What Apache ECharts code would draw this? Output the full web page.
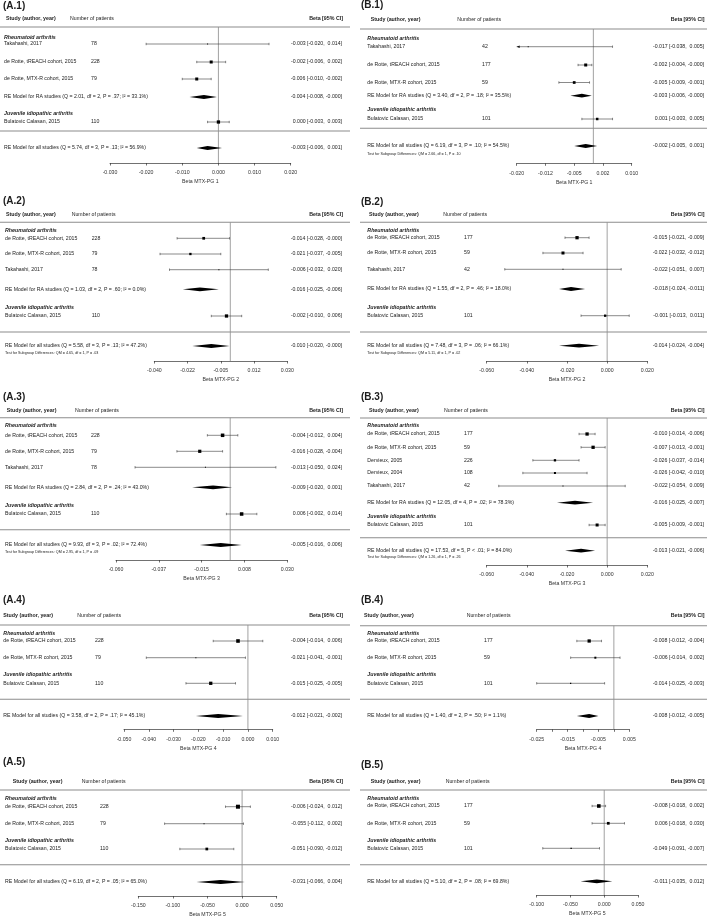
<!DOCTYPE html>
<html><head><meta charset="utf-8">
<script src="https://cdn.jsdelivr.net/npm/echarts@6/dist/echarts.min.js"></script>
<style>html,body{margin:0;padding:0;background:#fff}#c{width:709px;height:918px}</style>
</head><body><div id="c"></div>
<script>
// ---------------- DATA ----------------
const GROUP_NAMES = ['Rheumatoid arthritis', 'Juvenile idiopathic arthritis'];
const HEADERS = ['Study (author, year)', 'Number of patients', 'Beta [95% CI]'];

// (A.1)
const A1_study = ['Takahashi, 2017', 'de Rotte, tREACH cohort, 2015', 'de Rotte, MTX-R cohort, 2015', 'Bulatovic Calasan, 2015'];
const A1_patients = [78, 228, 79, 110];
const A1_beta = [-0.003, -0.002, -0.006, 0.000];
const A1_low = [-0.020, -0.006, -0.010, -0.003];
const A1_high = [0.014, 0.002, -0.002, 0.003];
const A1_weight = [0.25, 0.75, 0.75, 0.82];
const A1_reLabel = ['RE Model for RA studies (Q = 2.01, df = 2, P = .37; I² = 33.1%)', 'RE Model for all studies (Q = 5.74, df = 3, P = .13; I² = 56.9%)'];
const A1_reBeta = [-0.004, -0.003];
const A1_reLow = [-0.008, -0.006];
const A1_reHigh = [-0.0004, 0.001];
const A1_test = '';
const A1_ticks = ['-0.030', '-0.020', '-0.010', '0.000', '0.010', '0.020'];

// (B.1)
const B1_study = ['Takahashi, 2017', 'de Rotte, tREACH cohort, 2015', 'de Rotte, MTX-R cohort, 2015', 'Bulatovic Calasan, 2015'];
const B1_patients = [42, 177, 59, 101];
const B1_beta = [-0.017, -0.002, -0.005, 0.001];
const B1_low = [-0.038, -0.004, -0.009, -0.003];
const B1_high = [0.005, -0.0004, -0.001, 0.005];
const B1_weight = [0.25, 0.75, 0.68, 0.62];
const B1_reLabel = ['RE Model for RA studies (Q = 3.40, df = 2, P = .18; I² = 35.5%)', 'RE Model for all studies (Q = 6.19, df = 3, P = .10; I² = 54.5%)'];
const B1_reBeta = [-0.003, -0.002];
const B1_reLow = [-0.006, -0.005];
const B1_reHigh = [-0.0004, 0.001];
const B1_test = 'Test for Subgroup Differences: QM = 2.66, df = 1, P = .10';
const B1_ticks = ['-0.020', '-0.012', '-0.005', '0.002', '0.010'];

// (A.2)
const A2_study = ['de Rotte, tREACH cohort, 2015', 'de Rotte, MTX-R cohort, 2015', 'Takahashi, 2017', 'Bulatovic Calasan, 2015'];
const A2_patients = [228, 79, 78, 110];
const A2_beta = [-0.014, -0.021, -0.006, -0.002];
const A2_low = [-0.028, -0.037, -0.032, -0.010];
const A2_high = [-0.0004, -0.005, 0.020, 0.006];
const A2_weight = [0.68, 0.58, 0.25, 0.82];
const A2_reLabel = ['RE Model for RA studies (Q = 1.03, df = 2, P = .60; I² = 0.0%)', 'RE Model for all studies (Q = 5.58, df = 3, P = .13; I² = 47.2%)'];
const A2_reBeta = [-0.016, -0.010];
const A2_reLow = [-0.025, -0.020];
const A2_reHigh = [-0.006, -0.0004];
const A2_test = 'Test for Subgroup Differences: QM = 4.65, df = 1, P = .03';
const A2_ticks = ['-0.040', '-0.022', '-0.005', '0.012', '0.030'];

// (B.2)
const B2_study = ['de Rotte, tREACH cohort, 2015', 'de Rotte, MTX-R cohort, 2015', 'Takahashi, 2017', 'Bulatovic Calasan, 2015'];
const B2_patients = [177, 59, 42, 101];
const B2_beta = [-0.015, -0.022, -0.022, -0.001];
const B2_low = [-0.021, -0.032, -0.051, -0.013];
const B2_high = [-0.009, -0.012, 0.007, 0.011];
const B2_weight = [0.82, 0.75, 0.25, 0.58];
const B2_reLabel = ['RE Model for RA studies (Q = 1.55, df = 2, P = .46; I² = 18.0%)', 'RE Model for all studies (Q = 7.48, df = 3, P = .06; I² = 66.1%)'];
const B2_reBeta = [-0.018, -0.014];
const B2_reLow = [-0.024, -0.024];
const B2_reHigh = [-0.011, -0.004];
const B2_test = 'Test for Subgroup Differences: QM = 5.11, df = 1, P = .02';
const B2_ticks = ['-0.060', '-0.040', '-0.020', '0.000', '0.020'];

// (A.3)
const A3_study = ['de Rotte, tREACH cohort, 2015', 'de Rotte, MTX-R cohort, 2015', 'Takahashi, 2017', 'Bulatovic Calasan, 2015'];
const A3_patients = [228, 79, 78, 110];
const A3_beta = [-0.004, -0.016, -0.013, 0.006];
const A3_low = [-0.012, -0.028, -0.050, -0.002];
const A3_high = [0.004, -0.004, 0.024, 0.014];
const A3_weight = [0.88, 0.8, 0.25, 0.88];
const A3_reLabel = ['RE Model for RA studies (Q = 2.84, df = 2, P = .24; I² = 43.0%)', 'RE Model for all studies (Q = 9.93, df = 3, P = .02; I² = 72.4%)'];
const A3_reBeta = [-0.009, -0.005];
const A3_reLow = [-0.020, -0.016];
const A3_reHigh = [0.001, 0.006];
const A3_test = 'Test for Subgroup Differences: QM = 2.95, df = 1, P = .09';
const A3_ticks = ['-0.060', '-0.037', '-0.015', '0.008', '0.030'];

// (B.3)
const B3_study = ['de Rotte, tREACH cohort, 2015', 'de Rotte, MTX-R cohort, 2015', 'Dervieux, 2005', 'Dervieux, 2004', 'Takahashi, 2017', 'Bulatovic Calasan, 2015'];
const B3_patients = [177, 59, 226, 108, 42, 101];
const B3_beta = [-0.010, -0.007, -0.026, -0.026, -0.022, -0.005];
const B3_low = [-0.014, -0.013, -0.037, -0.042, -0.054, -0.009];
const B3_high = [-0.006, -0.001, -0.014, -0.010, 0.009, -0.001];
const B3_weight = [0.82, 0.82, 0.58, 0.5, 0.25, 0.75];
const B3_reLabel = ['RE Model for RA studies (Q = 12.05, df = 4, P = .02; I² = 78.3%)', 'RE Model for all studies (Q = 17.53, df = 5, P < .01; I² = 84.0%)'];
const B3_reBeta = [-0.016, -0.013];
const B3_reLow = [-0.025, -0.021];
const B3_reHigh = [-0.007, -0.006];
const B3_test = 'Test for Subgroup Differences: QM = 1.26, df = 1, P = .26';
const B3_ticks = ['-0.060', '-0.040', '-0.020', '0.000', '0.020'];

// (A.4)
const A4_study = ['de Rotte, tREACH cohort, 2015', 'de Rotte, MTX-R cohort, 2015', 'Bulatovic Calasan, 2015'];
const A4_patients = [228, 79, 110];
const A4_beta = [-0.004, -0.021, -0.015];
const A4_low = [-0.014, -0.041, -0.025];
const A4_high = [0.006, -0.001, -0.005];
const A4_weight = [0.9, 0.25, 0.82];
const A4_reLabel = ['RE Model for all studies (Q = 3.58, df = 2, P = .17; I² = 45.1%)'];
const A4_reBeta = [-0.012];
const A4_reLow = [-0.021];
const A4_reHigh = [-0.002];
const A4_test = '';
const A4_ticks = ['-0.050', '-0.040', '-0.030', '-0.020', '-0.010', '0.000', '0.010'];

// (B.4)
const B4_study = ['de Rotte, tREACH cohort, 2015', 'de Rotte, MTX-R cohort, 2015', 'Bulatovic Calasan, 2015'];
const B4_patients = [177, 59, 101];
const B4_beta = [-0.008, -0.006, -0.014];
const B4_low = [-0.012, -0.014, -0.025];
const B4_high = [-0.004, 0.002, -0.003];
const B4_weight = [0.82, 0.5, 0.3];
const B4_reLabel = ['RE Model for all studies (Q = 1.40, df = 2, P = .50; I² = 1.1%)'];
const B4_reBeta = [-0.008];
const B4_reLow = [-0.012];
const B4_reHigh = [-0.005];
const B4_test = '';
const B4_ticks = ['-0.025', '', '-0.015', '', '-0.005', '', '0.005'];

// (A.5)
const A5_study = ['de Rotte, tREACH cohort, 2015', 'de Rotte, MTX-R cohort, 2015', 'Bulatovic Calasan, 2015'];
const A5_patients = [228, 79, 110];
const A5_beta = [-0.006, -0.055, -0.051];
const A5_low = [-0.024, -0.112, -0.090];
const A5_high = [0.012, 0.002, -0.012];
const A5_weight = [1.0, 0.25, 0.68];
const A5_reLabel = ['RE Model for all studies (Q = 6.19, df = 2, P = .05; I² = 65.0%)'];
const A5_reBeta = [-0.031];
const A5_reLow = [-0.066];
const A5_reHigh = [0.004];
const A5_test = '';
const A5_ticks = ['-0.150', '-0.100', '-0.050', '0.000', '0.050'];

// (B.5)
const B5_study = ['de Rotte, tREACH cohort, 2015', 'de Rotte, MTX-R cohort, 2015', 'Bulatovic Calasan, 2015'];
const B5_patients = [177, 59, 101];
const B5_beta = [-0.008, 0.006, -0.049];
const B5_low = [-0.018, -0.018, -0.091];
const B5_high = [0.002, 0.030, -0.007];
const B5_weight = [0.9, 0.68, 0.32];
const B5_reLabel = ['RE Model for all studies (Q = 5.10, df = 2, P = .08; I² = 69.8%)'];
const B5_reBeta = [-0.011];
const B5_reLow = [-0.035];
const B5_reHigh = [0.012];
const B5_test = '';
const B5_ticks = ['-0.100', '-0.050', '0.000', '0.050'];

// ---------------- LAYOUT (pixels / scale settings) ----------------
const FONT = '"Liberation Sans", Arial, Helvetica, sans-serif';
const INK = '#1c1c1c';
const COLS = {
  A: { titleX: 3, lineX0: 0, lineX1: 350, betaRight: 342, hdrRight: 343 },
  B: { titleX: 361, lineX0: 360, lineX1: 707, betaRight: 704, hdrRight: 704.5 }
};

const PANELS = [
  { title: '(A.1)', axisName: 'Beta MTX-PG 1', col: 'A',
    d: { study: A1_study, n: A1_patients, beta: A1_beta, low: A1_low, high: A1_high, w: A1_weight, reLabel: A1_reLabel, reBeta: A1_reBeta, reLow: A1_reLow, reHigh: A1_reHigh, test: A1_test, ticks: A1_ticks },
    L: { titleY: 7.5, headerY: 19, hline: 27, headRA: 38, rows: [44, 62, 79, 122], reRows: [97, 148], headJIA: 114, sep: 131, testY: null, axisY: 163, x0: 110, x1: 290.7, min: -0.03, max: 0.02, step: 0.01, studyHdrX: 6, nHdrX: 70, nX: 91, nameX: 4 } },
  { title: '(B.1)', axisName: 'Beta MTX-PG 1', col: 'B',
    d: { study: B1_study, n: B1_patients, beta: B1_beta, low: B1_low, high: B1_high, w: B1_weight, reLabel: B1_reLabel, reBeta: B1_reBeta, reLow: B1_reLow, reHigh: B1_reHigh, test: B1_test, ticks: B1_ticks },
    L: { titleY: 6.5, headerY: 20, hline: 29, headRA: 38.3, rows: [46.7, 65, 82.5, 119], reRows: [95.7, 146], headJIA: 110, sep: 128.3, testY: 154, axisY: 163.3, x0: 516.7, x1: 631.7, min: -0.02, max: 0.01, step: 0.0075, studyHdrX: 370.7, nHdrX: 457.3, nX: 482, nameX: 367.3 } },
  { title: '(A.2)', axisName: 'Beta MTX-PG 2', col: 'A',
    d: { study: A2_study, n: A2_patients, beta: A2_beta, low: A2_low, high: A2_high, w: A2_weight, reLabel: A2_reLabel, reBeta: A2_reBeta, reLow: A2_reLow, reHigh: A2_reHigh, test: A2_test, ticks: A2_ticks },
    L: { titleY: 202.7, headerY: 214.3, hline: 222.3, headRA: 230.7, rows: [238.3, 254, 269.7, 316], reRows: [289.3, 346], headJIA: 307.7, sep: 332, testY: 353.3, axisY: 361, x0: 154.3, x1: 287.3, min: -0.04, max: 0.03, step: 0.0175, studyHdrX: 6, nHdrX: 71.7, nX: 91.7, nameX: 5 } },
  { title: '(B.2)', axisName: 'Beta MTX-PG 2', col: 'B',
    d: { study: B2_study, n: B2_patients, beta: B2_beta, low: B2_low, high: B2_high, w: B2_weight, reLabel: B2_reLabel, reBeta: B2_reBeta, reLow: B2_reLow, reHigh: B2_reHigh, test: B2_test, ticks: B2_ticks },
    L: { titleY: 203.3, headerY: 214.3, hline: 222.3, headRA: 230.7, rows: [237.7, 253, 269.3, 315.7], reRows: [289, 345.7], headJIA: 307.3, sep: 332, testY: 353.3, axisY: 361, x0: 486.7, x1: 647.3, min: -0.06, max: 0.02, step: 0.02, studyHdrX: 369, nHdrX: 443.3, nX: 464, nameX: 367.3 } },
  { title: '(A.3)', axisName: 'Beta MTX-PG 3', col: 'A',
    d: { study: A3_study, n: A3_patients, beta: A3_beta, low: A3_low, high: A3_high, w: A3_weight, reLabel: A3_reLabel, reBeta: A3_reBeta, reLow: A3_reLow, reHigh: A3_reHigh, test: A3_test, ticks: A3_ticks },
    L: { titleY: 398.3, headerY: 410.7, hline: 417.7, headRA: 426, rows: [435.3, 451.3, 467.3, 514], reRows: [487.3, 545], headJIA: 505.7, sep: 529.7, testY: 551.7, axisY: 560, x0: 116, x1: 287.3, min: -0.06, max: 0.03, step: 0.0225, studyHdrX: 6.7, nHdrX: 75, nX: 91, nameX: 5 } },
  { title: '(B.3)', axisName: 'Beta MTX-PG 3', col: 'B',
    d: { study: B3_study, n: B3_patients, beta: B3_beta, low: B3_low, high: B3_high, w: B3_weight, reLabel: B3_reLabel, reBeta: B3_reBeta, reLow: B3_reLow, reHigh: B3_reHigh, test: B3_test, ticks: B3_ticks },
    L: { titleY: 398.3, headerY: 410.7, hline: 418, headRA: 426, rows: [434, 447.3, 460.3, 473, 486, 525], reRows: [502.7, 550.7], headJIA: 516.7, sep: 537.7, testY: 556.7, axisY: 565, x0: 486.7, x1: 647.3, min: -0.06, max: 0.02, step: 0.02, studyHdrX: 369, nHdrX: 444, nX: 464, nameX: 367.3 } },
  { title: '(A.4)', axisName: 'Beta MTX-PG 4', col: 'A',
    d: { study: A4_study, n: A4_patients, beta: A4_beta, low: A4_low, high: A4_high, w: A4_weight, reLabel: A4_reLabel, reBeta: A4_reBeta, reLow: A4_reLow, reHigh: A4_reHigh, test: A4_test, ticks: A4_ticks },
    L: { titleY: 601.7, headerY: 616, hline: 625, headRA: 633.7, rows: [641, 657.7, 683.3], reRows: [716], headJIA: 675, sep: 699.3, testY: null, axisY: 729.3, x0: 124, x1: 272.7, min: -0.05, max: 0.01, step: 0.01, studyHdrX: 3.3, nHdrX: 77.3, nX: 95, nameX: 3.3 } },
  { title: '(B.4)', axisName: 'Beta MTX-PG 4', col: 'B',
    d: { study: B4_study, n: B4_patients, beta: B4_beta, low: B4_low, high: B4_high, w: B4_weight, reLabel: B4_reLabel, reBeta: B4_reBeta, reLow: B4_reLow, reHigh: B4_reHigh, test: B4_test, ticks: B4_ticks },
    L: { titleY: 601.7, headerY: 616, hline: 625.7, headRA: 634, rows: [641, 657.7, 683.3], reRows: [716], headJIA: 674.3, sep: 699.3, testY: null, axisY: 729.3, x0: 536.7, x1: 629.3, min: -0.025, max: 0.005, step: 0.005, studyHdrX: 364, nHdrX: 466.7, nX: 484, nameX: 367.3 } },
  { title: '(A.5)', axisName: 'Beta MTX-PG 5', col: 'A',
    d: { study: A5_study, n: A5_patients, beta: A5_beta, low: A5_low, high: A5_high, w: A5_weight, reLabel: A5_reLabel, reBeta: A5_reBeta, reLow: A5_reLow, reHigh: A5_reHigh, test: A5_test, ticks: A5_ticks },
    L: { titleY: 763.3, headerY: 781.7, hline: 790, headRA: 798.7, rows: [806.7, 823.7, 849], reRows: [882], headJIA: 840.3, sep: 864.7, testY: null, axisY: 896, x0: 138.3, x1: 276.7, min: -0.15, max: 0.05, step: 0.05, studyHdrX: 12.7, nHdrX: 81.7, nX: 100, nameX: 5 } },
  { title: '(B.5)', axisName: 'Beta MTX-PG 5', col: 'B',
    d: { study: B5_study, n: B5_patients, beta: B5_beta, low: B5_low, high: B5_high, w: B5_weight, reLabel: B5_reLabel, reBeta: B5_reBeta, reLow: B5_reLow, reHigh: B5_reHigh, test: B5_test, ticks: B5_ticks },
    L: { titleY: 766.7, headerY: 781.7, hline: 790, headRA: 798.7, rows: [806, 823.3, 848.3], reRows: [881.3], headJIA: 840.3, sep: 864.7, testY: null, axisY: 895, x0: 536.7, x1: 638, min: -0.1, max: 0.05, step: 0.05, studyHdrX: 370.7, nHdrX: 445.7, nX: 464, nameX: 367.3 } }
];

// ---------------- HELPERS ----------------
function fmt(v) {
  const s = v.toFixed(3);
  return s.charAt(0) === '-' ? s : ' ' + s;
}
function ciText(b, l, h) { return fmt(b) + ' [' + fmt(l) + ', ' + fmt(h) + ']'; }

function txt(text, x, y, o) {
  o = o || {};
  const align = o.align || 'left';
  return {
    type: 'text', silent: true,
    style: {
      text: text, x: x, y: y, fill: INK,
      fontSize: o.size || 5.2, fontFamily: FONT,
      fontWeight: o.weight || 'normal', fontStyle: o.style || 'normal',
      align: align, textAlign: align, verticalAlign: 'middle', textVerticalAlign: 'middle'
    }
  };
}

function makeRender(P) {
  const D = P.d, L = P.L, C = COLS[P.col];
  return function (params, api) {
    const y = api.value(1), kind = api.value(2), i = api.value(3);
    const cy = api.coord([0, y])[1];
    const kids = [];
    if (kind === 6) { // reference line at 0
      const p0 = api.coord([0, 0]);
      const p1 = api.coord([0, L.axisY - L.hline]);
      kids.push({ type: 'line', silent: true, shape: { x1: p0[0], y1: p0[1], x2: p1[0], y2: p1[1] }, style: { stroke: '#7a7a7a', lineWidth: 0.7 } });
    } else if (kind === 0) { // header
      kids.push(txt(HEADERS[0], L.studyHdrX, cy, { weight: 'bold', size: 5.3 }));
      kids.push(txt(HEADERS[1], L.nHdrX, cy, { size: 5.2 }));
      kids.push(txt(HEADERS[2], C.hdrRight, cy, { weight: 'bold', size: 5.3, align: 'right' }));
    } else if (kind === 1) { // horizontal rule
      kids.push({ type: 'line', silent: true, shape: { x1: C.lineX0, y1: cy, x2: C.lineX1, y2: cy }, style: { stroke: '#8c8c8c', lineWidth: 1.1 } });
    } else if (kind === 2) { // group heading
      kids.push(txt(GROUP_NAMES[i], L.nameX, cy, { weight: 'bold', style: 'italic', size: 5.3 }));
    } else if (kind === 3) { // study row
      const b = D.beta[i], lo = D.low[i], hi = D.high[i];
      const xmin = api.coord([L.min, y])[0], xmax = api.coord([L.max, y])[0];
      let xl = api.coord([lo, y])[0], xh = api.coord([hi, y])[0];
      const xb = api.coord([b, y])[0];
      const clipL = xl < xmin, clipR = xh > xmax;
      if (clipL) xl = xmin; if (clipR) xh = xmax;
      const st = { stroke: '#3a3a3a', lineWidth: 0.6 };
      kids.push({ type: 'line', silent: true, shape: { x1: xl, y1: cy, x2: xh, y2: cy }, style: st });
      if (!clipL) kids.push({ type: 'line', silent: true, shape: { x1: xl, y1: cy - 1.2, x2: xl, y2: cy + 1.2 }, style: st });
      else kids.push({ type: 'polygon', silent: true, shape: { points: [[xl, cy], [xl + 3, cy - 1.3], [xl + 3, cy + 1.3]] }, style: { fill: '#111' } });
      if (!clipR) kids.push({ type: 'line', silent: true, shape: { x1: xh, y1: cy - 1.2, x2: xh, y2: cy + 1.2 }, style: st });
      else kids.push({ type: 'polygon', silent: true, shape: { points: [[xh, cy], [xh - 3, cy - 1.3], [xh - 3, cy + 1.3]] }, style: { fill: '#111' } });
      const s = 4 * D.w[i];
      kids.push({ type: 'rect', silent: true, shape: { x: xb - s / 2, y: cy - s / 2, width: s, height: s }, style: { fill: '#000' } });
      kids.push(txt(D.study[i], L.nameX, cy));
      kids.push(txt(String(D.n[i]), L.nX, cy));
      kids.push(txt(ciText(b, lo, hi), C.betaRight, cy, { align: 'right' }));
    } else if (kind === 4) { // RE model diamond
      const b = D.reBeta[i], lo = D.reLow[i], hi = D.reHigh[i];
      const xl = api.coord([lo, y])[0], xh = api.coord([hi, y])[0], xb = api.coord([b, y])[0];
      const h = 1.9;
      kids.push({ type: 'polygon', silent: true, shape: { points: [[xl, cy], [xb, cy - h], [xh, cy], [xb, cy + h]] }, style: { fill: '#000' } });
      kids.push(txt(D.reLabel[i], L.nameX, cy));
      kids.push(txt(ciText(b, lo, hi), C.betaRight, cy, { align: 'right' }));
    } else if (kind === 5) { // subgroup test
      kids.push(txt(D.test, L.nameX, cy, { size: 3.7 }));
    }
    return { type: 'group', children: kids };
  };
}

// ---------------- OPTION ----------------
const titles = [], grids = [], xAxes = [], yAxes = [], series = [];
PANELS.forEach(function (P, k) {
  const L = P.L, D = P.d, C = COLS[P.col];
  const H = L.axisY - L.hline;
  titles.push({ text: P.title, left: C.titleX, top: L.titleY - 6, padding: 0,
    textStyle: { fontSize: 10, fontWeight: 'bold', color: INK, fontFamily: FONT } });
  grids.push({ left: L.x0, top: L.hline, width: L.x1 - L.x0, height: H, containLabel: false, outerBoundsMode: 'none' });
  xAxes.push({
    gridIndex: k, type: 'value', min: L.min, max: L.max, interval: L.step, position: 'bottom',
    axisLine: { show: true, onZero: false, lineStyle: { color: '#333', width: 0.7 } },
    axisTick: { show: true, inside: false, length: 2.5, lineStyle: { color: '#333', width: 0.7 } },
    splitLine: { show: false },
    axisLabel: { show: true, showMinLabel: true, showMaxLabel: true, fontSize: 5.2, color: '#333', fontFamily: FONT, margin: 7.5,
      formatter: function (v) { const j = Math.round((v - L.min) / L.step); return D.ticks[j] !== undefined ? D.ticks[j] : ''; } },
    name: P.axisName, nameLocation: 'middle', nameGap: 16.5,
    nameTextStyle: { fontSize: 5.2, color: '#333', fontFamily: FONT }
  });
  yAxes.push({ gridIndex: k, type: 'value', min: 0, max: H, inverse: true, show: false });
  const items = [];
  items.push([0, 0, 6, 0]);
  items.push([0, L.headerY - L.hline, 0, 0]);
  items.push([0, 0, 1, 0]);
  items.push([0, L.headRA - L.hline, 2, 0]);
  L.rows.forEach(function (r, i) { items.push([D.beta[i], r - L.hline, 3, i]); });
  L.reRows.forEach(function (r, i) { items.push([D.reBeta[i], r - L.hline, 4, i]); });
  items.push([0, L.headJIA - L.hline, 2, 1]);
  items.push([0, L.sep - L.hline, 1, 0]);
  if (L.testY !== null && D.test) items.push([0, L.testY - L.hline, 5, 0]);
  series.push({ type: 'custom', coordinateSystem: 'cartesian2d', xAxisIndex: k, yAxisIndex: k,
    data: items, renderItem: makeRender(P), silent: true, animation: false, clip: false });
});

const chart = echarts.init(document.getElementById('c'), null, { renderer: 'canvas' });
chart.setOption({
  animation: false, backgroundColor: '#fff',
  title: titles, grid: grids, xAxis: xAxes, yAxis: yAxes, series: series
});
</script>
</body></html>
